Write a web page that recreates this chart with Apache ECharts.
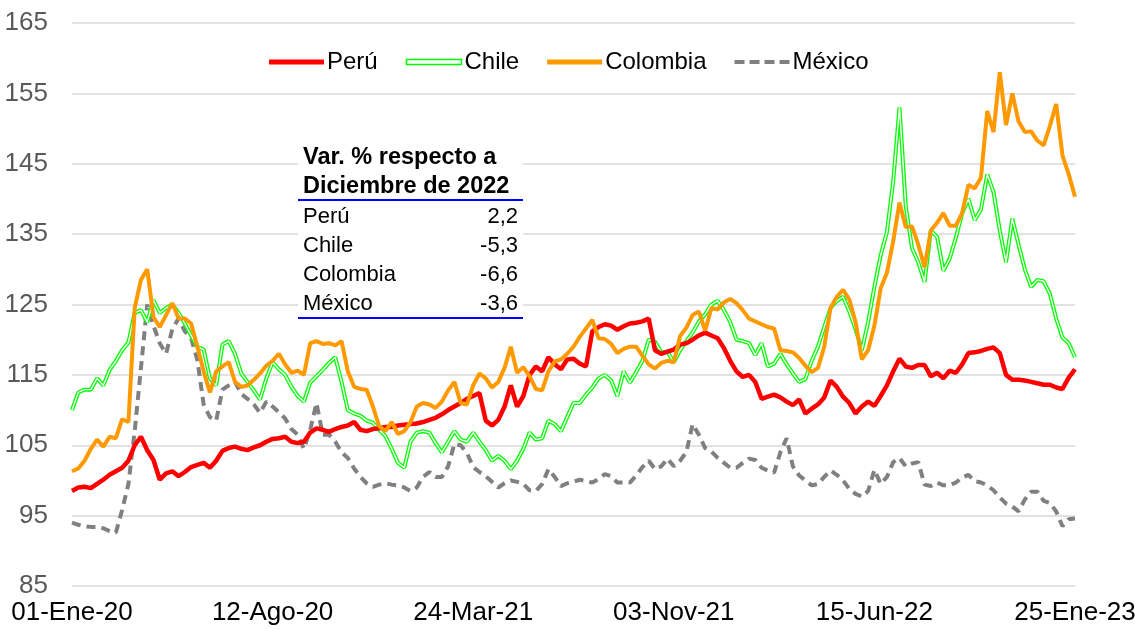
<!DOCTYPE html>
<html><head><meta charset="utf-8">
<script src="https://cdn.jsdelivr.net/npm/echarts@6/dist/echarts.min.js"></script>
<style>html,body{margin:0;padding:0;background:#fff}#c{width:1135px;height:629px}</style>
</head><body><div id="c"></div>
<script>
// Weekly observations starting 01-Ene-20
const startYear = 2020, startMonth = 0, startDay = 1, stepDays = 7;
const monthsEs = ['Ene','Feb','Mar','Abr','May','Jun','Jul','Ago','Sep','Oct','Nov','Dic'];
const tickLabels = ['01-Ene-20','12-Ago-20','24-Mar-21','03-Nov-21','15-Jun-22','25-Ene-23'];
const yTicks = [85,95,105,115,125,135,145,155,165];

const peru = [98.5,99.0,99.1,98.9,99.5,100.1,100.8,101.3,101.8,102.8,
105.0,106.2,104.3,102.9,100.1,101.0,101.3,100.6,101.2,101.9,
102.2,102.5,101.8,102.8,104.2,104.6,104.8,104.5,104.3,104.7,
105.0,105.5,105.9,106.0,106.2,105.5,105.3,105.5,106.8,107.4,
107.2,106.9,107.3,107.6,107.8,108.3,107.2,107.0,107.3,107.4,
107.6,107.6,107.8,107.9,108.0,108.1,108.3,108.6,108.9,109.4,
110.0,110.5,111.0,111.6,112.0,112.4,108.5,107.8,108.6,110.5,
113.5,110.5,112.0,115.0,116.2,115.5,117.5,116.5,115.8,117.2,
117.3,116.6,116.2,121.2,121.8,122.2,122.0,121.4,121.9,122.3,
122.4,122.6,123.0,118.5,118.0,118.3,118.6,119.3,119.5,120.0,
120.6,121.0,120.6,120.2,118.8,117.0,115.5,114.7,115.0,114.0,
111.6,111.9,112.2,111.8,111.2,110.7,111.5,109.5,110.2,110.8,
111.8,114.2,113.3,111.9,111.0,109.5,110.5,111.2,110.6,112.0,
113.5,115.5,117.3,116.2,116.0,116.4,116.4,114.8,115.3,114.5,
115.6,115.3,116.5,118.1,118.2,118.4,118.7,118.9,118.1,115.0,
114.3,114.3,114.2,114.0,113.8,113.6,113.6,113.2,113.0,114.6,115.8];

const chile = [110.0,112.5,112.9,112.9,114.5,113.5,115.7,117.0,118.5,119.6,
123.8,124.2,122.5,125.6,123.8,124.5,125.0,123.8,122.3,120.6,
119.0,118.6,114.5,113.5,119.3,119.8,118.0,115.2,114.0,112.8,
111.5,114.5,116.8,115.8,115.0,113.3,112.0,111.2,113.9,114.8,
115.7,116.7,117.5,114.0,110.0,109.5,109.2,108.5,108.2,107.2,
106.3,104.5,102.5,101.8,105.5,106.8,107.0,106.8,105.3,104.0,
105.5,107.0,105.8,105.5,106.8,105.5,104.3,102.8,103.5,102.8,
101.6,102.8,104.5,106.8,105.8,106.0,108.5,108.0,107.0,109.0,
111.0,111.0,112.2,113.2,114.5,115.0,114.2,112.0,115.5,113.9,
115.4,117.0,120.0,119.7,118.2,118.3,116.8,118.5,119.8,121.0,
122.6,123.6,125.0,125.5,124.2,122.5,120.0,119.8,119.5,117.8,
119.5,116.2,116.6,118.0,116.5,115.2,114.0,114.4,117.0,119.0,
121.8,124.5,125.5,126.1,124.0,121.5,118.5,122.5,127.5,132.0,
135.3,142.5,153.0,139.0,133.0,131.0,128.2,135.5,134.6,129.8,
131.5,134.5,138.0,140.0,137.0,138.5,143.5,141.0,135.5,131.0,
137.2,133.5,130.0,127.5,128.5,128.3,126.5,123.0,120.3,119.5,117.5];

const colombia = [101.3,101.7,102.8,104.5,105.8,104.8,106.2,106.0,108.7,108.3,
124.5,128.5,130.0,123.2,121.8,123.5,125.2,123.0,123.0,122.3,
119.0,115.5,112.5,115.5,116.2,116.8,114.0,113.3,113.5,114.3,
115.2,116.3,117.0,118.0,116.5,115.3,115.6,115.0,119.5,119.8,
119.4,119.5,119.2,119.8,115.5,113.3,113.0,112.9,110.5,107.7,
107.0,108.3,106.6,107.0,108.3,110.5,111.0,110.8,110.3,111.2,
112.8,114.0,111.0,110.8,113.5,115.2,114.5,113.2,114.0,116.0,
119.0,115.3,116.1,114.8,113.0,112.8,115.5,116.9,117.2,118.0,
119.0,120.4,121.6,122.8,120.2,120.1,119.4,118.1,118.7,119.0,
119.0,117.7,116.5,115.9,116.7,117.0,116.8,120.5,121.7,123.5,
124.0,121.3,124.5,124.3,125.3,125.8,125.2,124.2,123.0,122.6,
122.2,121.8,121.6,118.5,118.4,118.2,117.4,116.3,115.4,116.0,
119.0,124.5,126.1,127.1,125.7,122.5,117.2,118.5,122.0,127.3,
129.5,134.0,139.5,136.0,136.1,133.5,130.3,135.5,136.6,138.0,
136.2,136.2,138.0,142.0,141.5,143.0,152.5,149.5,158.0,150.5,
155.0,151.0,149.5,149.6,148.3,147.6,150.4,153.5,146.2,143.5,140.3];

const mexico = [94.0,93.7,93.5,93.4,93.4,93.2,92.8,92.6,95.8,99.5,
107.0,116.0,125.0,122.0,119.5,118.0,121.5,123.0,121.2,120.2,
117.1,110.8,109.0,108.5,112.9,113.5,114.0,112.3,111.6,110.8,
109.6,111.2,110.5,109.7,108.8,107.3,106.5,104.5,107.2,111.0,
106.5,106.5,105.5,104.0,103.2,101.7,100.5,99.6,99.1,99.4,
99.6,99.4,99.3,99.0,98.5,99.0,100.5,101.2,100.5,100.5,
102.0,105.2,105.0,103.9,101.9,101.2,100.6,99.8,99.0,99.6,
100.0,99.8,99.5,98.6,98.5,99.5,101.6,100.5,99.2,99.6,
99.8,100.1,99.9,99.7,100.2,100.9,100.6,99.7,99.7,99.7,
100.7,101.9,102.8,101.6,102.0,103.1,102.0,102.8,104.0,108.0,
106.5,104.6,104.1,103.2,102.5,101.8,101.8,102.5,103.1,102.9,
101.8,101.4,101.1,104.0,106.0,102.0,100.7,100.0,99.3,99.5,
100.5,101.4,100.8,100.0,98.8,98.1,97.7,98.5,101.5,99.5,
100.5,102.6,103.2,102.0,102.4,102.6,99.4,99.2,99.7,99.3,
99.3,99.7,100.4,100.8,99.9,99.7,99.3,98.6,97.6,96.7,
96.3,95.6,97.3,98.4,98.4,97.1,96.8,95.6,93.5,94.5,94.6];

const tableTitle = ['Var. % respecto a', 'Diciembre de 2022'];
const tableCountries = ['Perú', 'Chile', 'Colombia', 'México'];
const tableValues = ['2,2', '-5,3', '-6,6', '-3,6'];

function pad(n){return (n<10?'0':'')+n;}
const categories = peru.map((_, i) => {
  const d = new Date(Date.UTC(startYear, startMonth, startDay) + i*stepDays*86400000);
  return pad(d.getUTCDate()) + '-' + monthsEs[d.getUTCMonth()] + '-' + String(d.getUTCFullYear()).slice(2);
});

const SANS = "'Liberation Sans', Arial, sans-serif";

const chart = echarts.init(document.getElementById('c'), null, {renderer: 'canvas'});

const tx = 298, tx2 = 523;
const graphics = [
  {type:'rect', shape:{x:tx, y:140, width:tx2-tx, height:179}, style:{fill:'#fff'}, z:50},
  {type:'text', x:303, y:158, style:{text:tableTitle[0], fontSize:23.5, fontWeight:'bold', fontFamily:SANS, fill:'#000', align:'left', verticalAlign:'middle'}, z:51},
  {type:'text', x:303, y:187, style:{text:tableTitle[1], fontSize:23.5, fontWeight:'bold', fontFamily:SANS, fill:'#000', align:'left', verticalAlign:'middle'}, z:51},
  {type:'line', shape:{x1:tx, y1:200, x2:tx2, y2:200}, style:{stroke:'#0000ff', lineWidth:2}, z:51},
  {type:'line', shape:{x1:tx, y1:318, x2:tx2, y2:318}, style:{stroke:'#0000ff', lineWidth:2}, z:51}
];
tableCountries.forEach((c, k) => {
  const y = 217 + k*29;
  graphics.push({type:'text', x:303, y:y, style:{text:c, fontSize:22, fontFamily:SANS, fill:'#000', align:'left', verticalAlign:'middle'}, z:51});
  graphics.push({type:'text', x:518, y:y, style:{text:tableValues[k], fontSize:22, fontFamily:SANS, fill:'#000', align:'right', verticalAlign:'middle'}, z:51});
});

const dashIcon = 'path://M0 0H10V4H0Z M15 0H25V4H15Z M30 0H40V4H30Z M45 0H55V4H45Z';

const option = {
  animation: false,
  backgroundColor: '#fff',
  grid: {left: 72, right: 60, top: 23, bottom: 43, containLabel: false, outerBoundsMode: 'none'},
  legend: {
    left: 264, top: 45, itemWidth: 55, itemHeight: 5, itemGap: 28,
    textStyle: {fontSize: 24, fontFamily: SANS, color: '#000', padding:[0,0,0,-2]},
    data: [
      {name:'Perú', icon:'rect', itemStyle:{color:'#ff0000'}},
      {name:'Chile', icon:'rect', itemStyle:{color:'#ffffff', borderColor:'#00ff00', borderWidth:1.5}},
      {name:'Colombia', icon:'rect', itemStyle:{color:'#ff9900'}},
      {name:'México', icon: dashIcon, itemStyle:{color:'#808080'}}
    ]
  },
  xAxis: {
    type: 'category', data: categories, boundaryGap: false,
    axisLine: {show: false}, axisTick: {show: false},
    axisLabel: {interval: 31, color: '#000', fontSize: 26, fontFamily: SANS, margin: 14, showMaxLabel: true},
    splitLine: {show: false}
  },
  yAxis: {
    type: 'value', min: 85, max: 165, interval: 10,
    axisLine: {show: false}, axisTick: {show: false},
    axisLabel: {color: '#595959', fontSize: 26, fontFamily: SANS, margin: 24},
    splitLine: {lineStyle: {color: '#d9d9d9', width: 1.5}}
  },
  graphic: graphics,
  series: [
    {name:'México', type:'line', data: mexico, showSymbol:false, symbol:'none', z:2,
     lineStyle:{color:'#808080', width:4, type:[9,6]}, itemStyle:{color:'#808080'}},
    {name:'Chile', type:'line', data: chile, showSymbol:false, symbol:'none', z:3,
     lineStyle:{color:'#00ff00', width:4}, itemStyle:{color:'#00ff00'}},
    {name:'Chile', type:'line', data: chile, showSymbol:false, symbol:'none', z:4,
     lineStyle:{color:'#ffffff', width:1.4}, itemStyle:{color:'#ffffff'}},
    {name:'Perú', type:'line', data: peru, showSymbol:false, symbol:'none', z:5,
     lineStyle:{color:'#ff0000', width:4.5}, itemStyle:{color:'#ff0000'}},
    {name:'Colombia', type:'line', data: colombia, showSymbol:false, symbol:'none', z:6,
     lineStyle:{color:'#ff9900', width:4}, itemStyle:{color:'#ff9900'}}
  ]
};
chart.setOption(option);
</script></body></html>
